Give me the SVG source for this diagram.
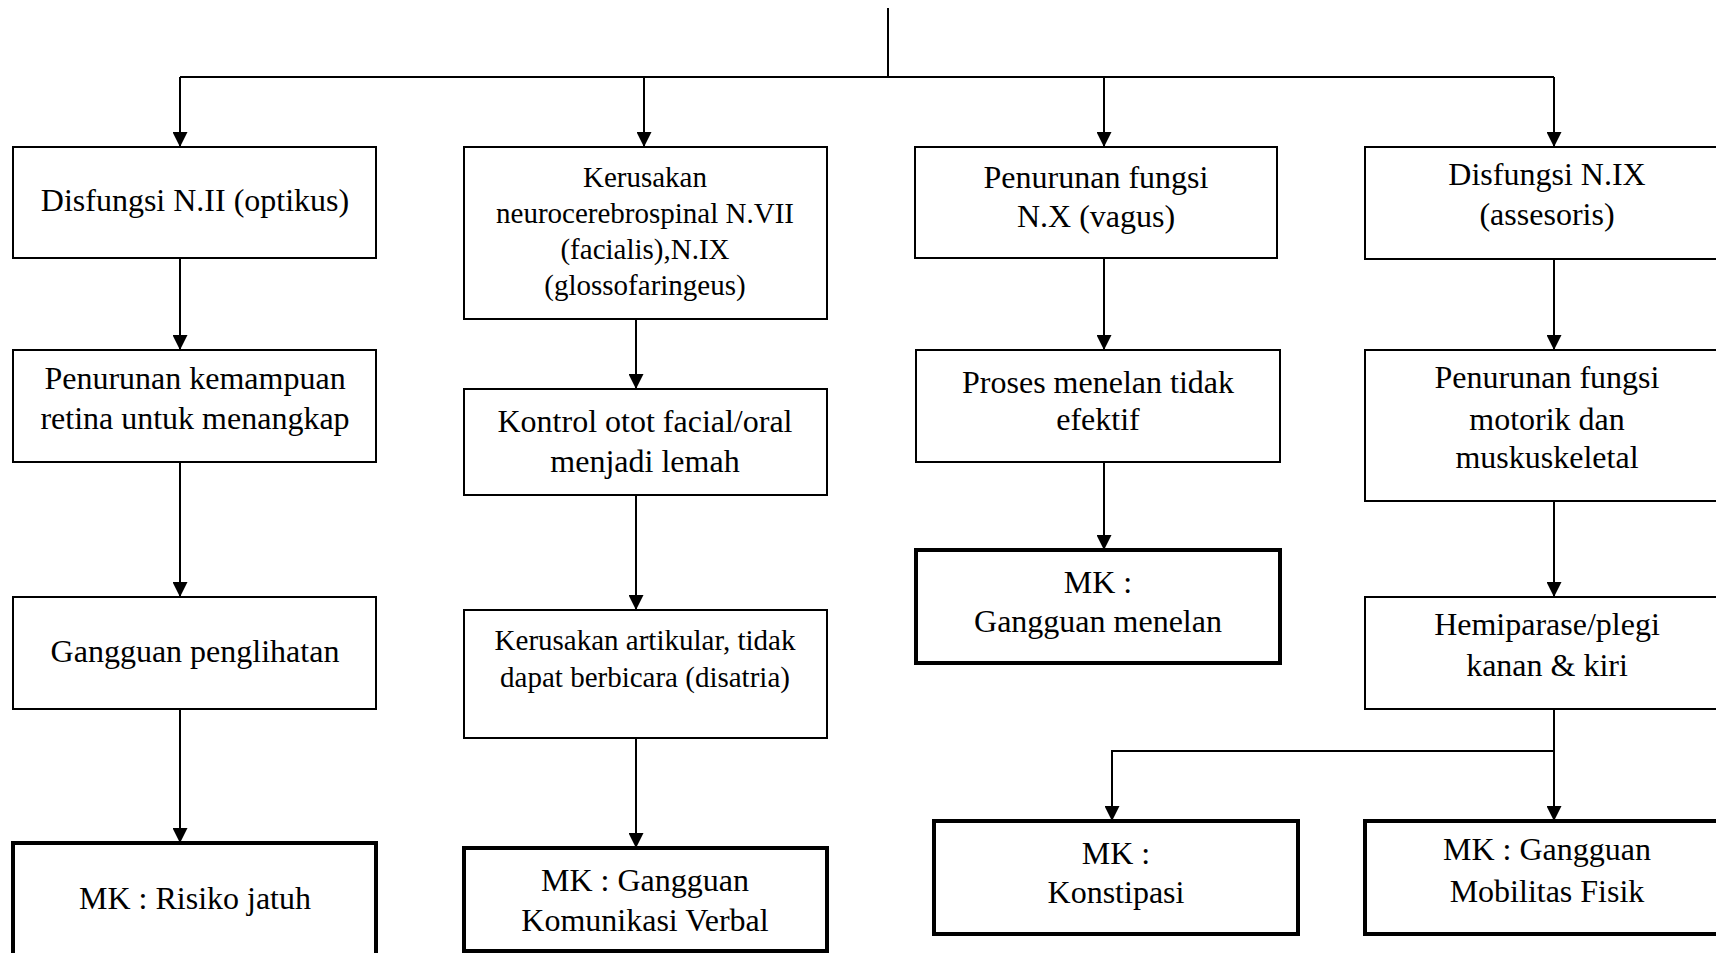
<svg xmlns="http://www.w3.org/2000/svg" width="1716" height="953" viewBox="0 0 1716 953">
<defs>
<style>
.box{fill:#fff;stroke:#000;stroke-width:2}
.mk{fill:#fff;stroke:#000;stroke-width:4}
.t{font-family:"Liberation Serif","Times New Roman",serif;font-size:32px;fill:#000;text-anchor:middle}
.s{font-size:29px}
.c{fill:none;stroke:#000;stroke-width:2}
</style>
<marker id="ah" markerUnits="userSpaceOnUse" markerWidth="15" markerHeight="15" refX="15" refY="7.5" orient="auto" viewBox="0 0 15 15">
<path d="M0,0 L15,7.5 L0,15 z" fill="#000"/>
</marker>
</defs>
<rect width="1716" height="953" fill="#fff"/>
<g id="connectors">
<path class="c" d="M888,8 V77 M180,77 H1554"/>
<path class="c" d="M180,77 V147" marker-end="url(#ah)"/>
<path class="c" d="M644,77 V147" marker-end="url(#ah)"/>
<path class="c" d="M1104,77 V147" marker-end="url(#ah)"/>
<path class="c" d="M1554,77 V147" marker-end="url(#ah)"/>
<path class="c" d="M180,258 V350" marker-end="url(#ah)"/>
<path class="c" d="M180,462 V597" marker-end="url(#ah)"/>
<path class="c" d="M180,709 V843" marker-end="url(#ah)"/>
<path class="c" d="M636,319 V389" marker-end="url(#ah)"/>
<path class="c" d="M636,495 V610" marker-end="url(#ah)"/>
<path class="c" d="M636,738 V848" marker-end="url(#ah)"/>
<path class="c" d="M1104,258 V350" marker-end="url(#ah)"/>
<path class="c" d="M1104,462 V550" marker-end="url(#ah)"/>
<path class="c" d="M1554,259 V350" marker-end="url(#ah)"/>
<path class="c" d="M1554,501 V597" marker-end="url(#ah)"/>
<path class="c" d="M1554,709 V821" marker-end="url(#ah)"/>
<path class="c" d="M1554,751 H1112 V821" marker-end="url(#ah)"/>
</g>
<g id="n-optikus"><rect class="box" x="13" y="147" width="363" height="111"/><text class="t" x="195" y="211">Disfungsi N.II (optikus)</text></g>
<g id="n-retina"><rect class="box" x="13" y="350" width="363" height="112"/><text class="t" x="195" y="389">Penurunan kemampuan</text><text class="t" x="195" y="429">retina untuk menangkap</text></g>
<g id="n-penglihatan"><rect class="box" x="13" y="597" width="363" height="112"/><text class="t" x="195" y="662">Gangguan penglihatan</text></g>
<g id="n-jatuh"><rect class="mk" x="13" y="843" width="363" height="120"/><text class="t" x="195" y="909">MK : Risiko jatuh</text></g>
<g id="n-kerusakan"><rect class="box" x="464" y="147" width="363" height="172"/><text class="t s" x="645" y="187">Kerusakan</text><text class="t s" x="645" y="223">neurocerebrospinal N.VII</text><text class="t s" x="645" y="259">(facialis),N.IX</text><text class="t s" x="645" y="295">(glossofaringeus)</text></g>
<g id="n-kontrol"><rect class="box" x="464" y="389" width="363" height="106"/><text class="t" x="645" y="432">Kontrol otot facial/oral</text><text class="t" x="645" y="472">menjadi lemah</text></g>
<g id="n-artikular"><rect class="box" x="464" y="610" width="363" height="128"/><text class="t s" x="645" y="650">Kerusakan artikular, tidak</text><text class="t s" x="645" y="687">dapat berbicara (disatria)</text></g>
<g id="n-komunikasi"><rect class="mk" x="464" y="848" width="363" height="103"/><text class="t" x="645" y="891">MK : Gangguan</text><text class="t" x="645" y="931">Komunikasi Verbal</text></g>
<g id="n-vagus"><rect class="box" x="915" y="147" width="362" height="111"/><text class="t" x="1096" y="188">Penurunan fungsi</text><text class="t" x="1096" y="227">N.X (vagus)</text></g>
<g id="n-menelan"><rect class="box" x="916" y="350" width="364" height="112"/><text class="t" x="1098" y="393">Proses menelan tidak</text><text class="t" x="1098" y="430">efektif</text></g>
<g id="n-mk-menelan"><rect class="mk" x="916" y="550" width="364" height="113"/><text class="t" x="1098" y="593">MK :</text><text class="t" x="1098" y="632">Gangguan menelan</text></g>
<g id="n-assesoris"><rect class="box" x="1365" y="147" width="364" height="112"/><text class="t" x="1547" y="185">Disfungsi N.IX</text><text class="t" x="1547" y="225">(assesoris)</text></g>
<g id="n-motorik"><rect class="box" x="1365" y="350" width="364" height="151"/><text class="t" x="1547" y="388">Penurunan fungsi</text><text class="t" x="1547" y="430">motorik dan</text><text class="t" x="1547" y="468">muskuskeletal</text></g>
<g id="n-hemiparase"><rect class="box" x="1365" y="597" width="364" height="112"/><text class="t" x="1547" y="635">Hemiparase/plegi</text><text class="t" x="1547" y="676">kanan &amp; kiri</text></g>
<g id="n-konstipasi"><rect class="mk" x="934" y="821" width="364" height="113"/><text class="t" x="1116" y="864">MK :</text><text class="t" x="1116" y="903">Konstipasi</text></g>
<g id="n-mobilitas"><rect class="mk" x="1365" y="821" width="364" height="113"/><text class="t" x="1547" y="860">MK : Gangguan</text><text class="t" x="1547" y="902">Mobilitas Fisik</text></g>
</svg>
